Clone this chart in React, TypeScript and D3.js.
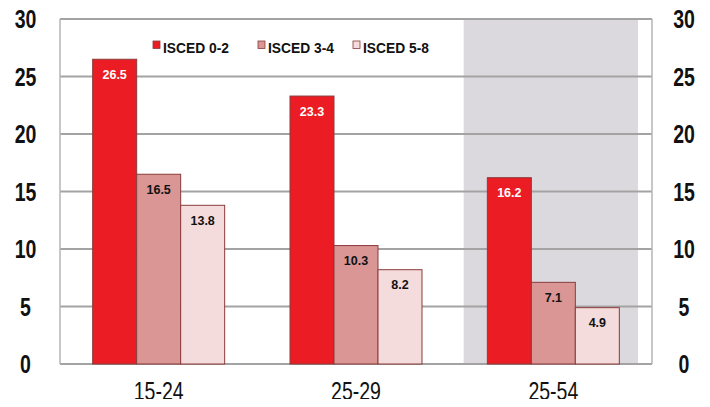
import React from "react";
import * as d3 from "d3";

const categories = ["15-24", "25-29", "25-54"];
const seriesNames = ["ISCED 0-2", "ISCED 3-4", "ISCED 5-8"];
const isced02 = [26.5, 23.3, 16.2];
const isced34 = [16.5, 10.3, 7.1];
const isced58 = [13.8, 8.2, 4.9];
const yTicks = [0, 5, 10, 15, 20, 25, 30];
const shadedCategory = "25-54";

const colors = ["#ec1c24", "#d99694", "#f3dcdb"];
const labelColors = ["#ffffff", "#111111", "#111111"];
const FONT = "'Liberation Sans', Arial, sans-serif";

export default function App() {
  const W = 710, H = 407;
  const left = 60, right = 652, top = 19, bottom = 364;
  const series = [isced02, isced34, isced58];

  const x = d3.scaleBand<string>().domain(categories).range([left, right]).padding(0);
  const y = d3.scaleLinear().domain([0, 30]).range([bottom, top]);
  const barW = 44;
  const inner = d3.scaleBand<number>().domain([0, 1, 2]).range([0, barW * 3]).padding(0);
  const groupOffset = (x.bandwidth() - barW * 3) / 2;

  const bx = x(shadedCategory)!;
  const shadeX0 = bx + 9;
  const shadeX1 = bx + x.bandwidth() - 14;

  const legendX = [153, 258, 353];

  return (
    <div style={{ margin: -8 }}>
      <svg width={W} height={H} style={{ display: "block", background: "#fff" }}>
        <rect x={shadeX0} y={top} width={shadeX1 - shadeX0} height={bottom - top} fill="#dbd9de" />
        {yTicks.map((t) => (
          <line key={t} x1={left} x2={right} y1={y(t)} y2={y(t)} stroke="#a3a3a3" strokeWidth={2} />
        ))}
        <line x1={left} x2={left} y1={top} y2={bottom} stroke="#b5b5b5" strokeWidth={1.5} />
        <line x1={right} x2={right} y1={top} y2={bottom} stroke="#b5b5b5" strokeWidth={1.5} />
        {categories.map((c, ci) =>
          series.map((s, si) => {
            const bxx = x(c)! + groupOffset + inner(si)!;
            const v = s[ci];
            return (
              <g key={c + si}>
                <rect x={bxx} y={y(v)} width={inner.bandwidth()} height={y(0) - y(v)} fill={colors[si]} stroke="#8a3b3b" strokeWidth={1} />
                <text x={bxx + inner.bandwidth() / 2} y={y(v) + 19.5} textAnchor="middle" fill={labelColors[si]}
                  style={{ fontFamily: FONT, fontWeight: 700, fontSize: 12.5 }}>
                  {v.toFixed(1)}
                </text>
              </g>
            );
          })
        )}
        {yTicks.map((t) => (
          <g key={"l" + t}>
            <text transform={`translate(25.5,${y(t) + 9}) scale(0.78,1)`} textAnchor="middle"
              style={{ fontFamily: FONT, fontWeight: 700, fontSize: 25 }} fill="#111">{t}</text>
            <text transform={`translate(684,${y(t) + 9}) scale(0.78,1)`} textAnchor="middle"
              style={{ fontFamily: FONT, fontWeight: 700, fontSize: 25 }} fill="#111">{t}</text>
          </g>
        ))}
        {categories.map((c) => (
          <text key={"c" + c} transform={`translate(${x(c)! + x.bandwidth() / 2},400) scale(0.78,1)`} textAnchor="middle"
            style={{ fontFamily: FONT, fontSize: 25 }} fill="#111">{c}</text>
        ))}
        {seriesNames.map((n, i) => (
          <g key={n}>
            <rect x={legendX[i]} y={41} width={7} height={7.5} fill={colors[i]} stroke="#8a3b3b" strokeWidth={0.8} />
            <text transform={`translate(${legendX[i] + 10},53) scale(0.92,1)`} style={{ fontFamily: FONT, fontWeight: 700, fontSize: 15 }} fill="#111">{n}</text>
          </g>
        ))}
      </svg>
    </div>
  );
}
